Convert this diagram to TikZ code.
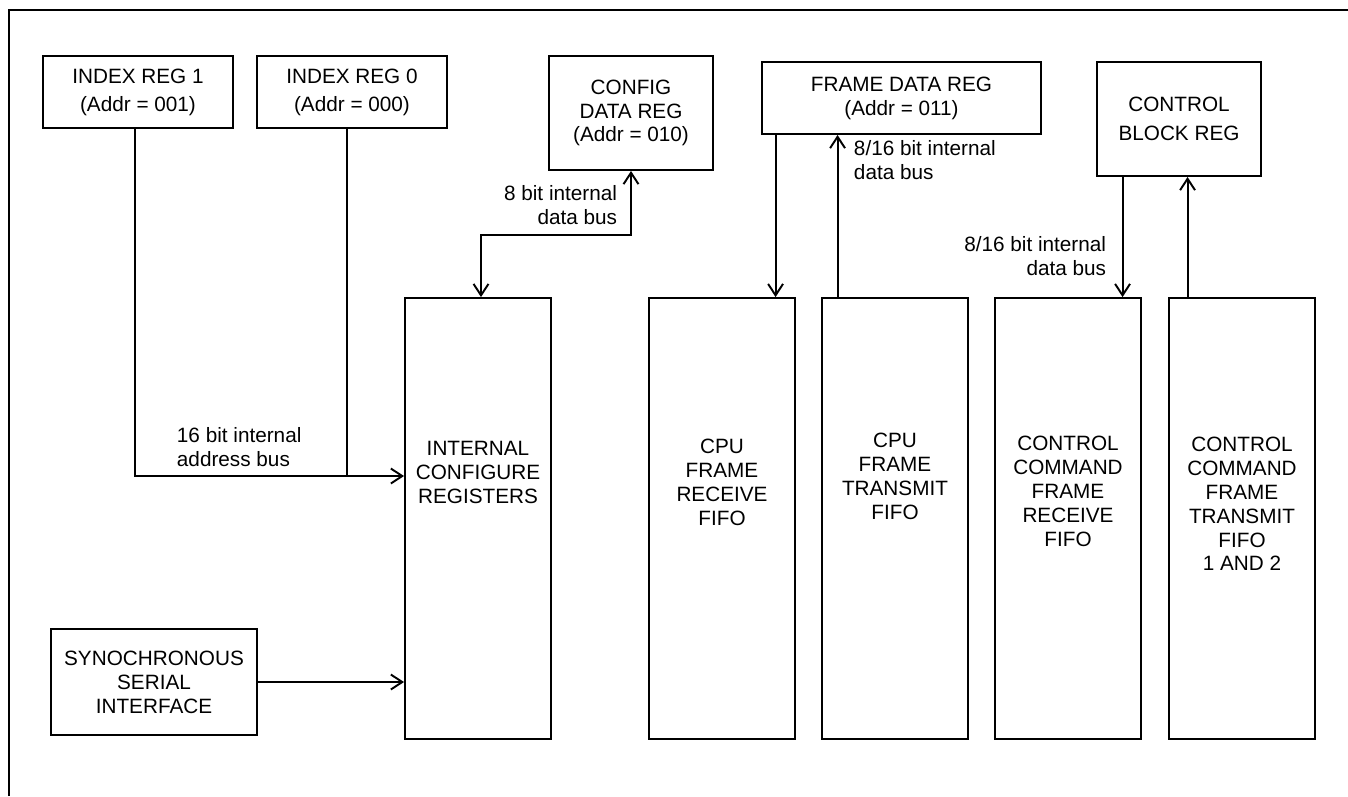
\documentclass[tikz,border=0pt]{standalone}
\usepackage{fontspec}
\setmainfont{Liberation Sans}
\usetikzlibrary{arrows.meta}
\usetikzlibrary{positioning}
\newcommand{\regfont}{\fontsize{11.8pt}{13.6pt}\selectfont}
\tikzset{>={Straight Barb[length=6.5pt,width=8.5pt]}}
\tikzset{reg/.style={draw, align=center, inner sep=0pt, font=\regfont}}
\tikzset{fifo/.style={draw, minimum width=2.92cm, minimum height=8.82cm}}
\tikzset{fifotext/.style={align=center, inner sep=0pt, font=\regfont}}
\tikzset{buslabel/.style={inner sep=0pt, font=\regfont}}

\begin{document}
\begin{tikzpicture}[x=0.02cm, y=-0.02cm, line width=1.1pt]
      \useasboundingbox (0, 0) rectangle (1348, 796);
      \draw (9, 796) -- (9, 10) -- (1348, 10);

      \node [reg, minimum width=3.8cm, minimum height=1.44cm, font=\fontsize{11.8pt}{16pt}\selectfont] (idx1) at (138, 92) {INDEX REG 1\\(Addr = 001)};
      \node [reg, minimum width=3.8cm, minimum height=1.44cm, font=\fontsize{11.8pt}{16pt}\selectfont] (idx0) at (352, 92) {INDEX REG 0\\(Addr = 000)};
      \node [reg, minimum width=3.28cm, minimum height=2.28cm] (cfg) at (631, 113) {CONFIG\\DATA REG\\(Addr = 010)};
      \node [reg, minimum width=5.58cm, minimum height=1.44cm] (fdr) at (901.5, 98) {FRAME DATA REG\\(Addr = 011)};
      \node [reg, minimum width=3.28cm, minimum height=2.28cm, font=\fontsize{11.8pt}{16.4pt}\selectfont] (cbr) at (1179, 119) {CONTROL\\BLOCK REG};
      \node [reg, minimum width=4.12cm, minimum height=2.12cm] (ssi) at (154, 682) {SYNOCHRONOUS\\SERIAL\\INTERFACE};

      \node [fifo] (icr) at (478, 518.5) {};
      \node [fifo] (cfr) at (722, 518.5) {};
      \node [fifo] (cft) at (895, 518.5) {};
      \node [fifo] (ccr) at (1068, 518.5) {};
      \node [fifo] (cct) at (1242, 518.5) {};

      \node [fifotext, below=2.86cm of icr.north] {INTERNAL\\CONFIGURE\\REGISTERS};
      \node [fifotext, below=2.82cm of cfr.north] {CPU\\FRAME\\RECEIVE\\FIFO};
      \node [fifotext, below=2.7cm of cft.north] {CPU\\FRAME\\TRANSMIT\\FIFO};
      \node [fifotext, below=2.76cm of ccr.north] {CONTROL\\COMMAND\\FRAME\\RECEIVE\\FIFO};
      \node [fifotext, below=2.78cm of cct.north] {CONTROL\\COMMAND\\FRAME\\TRANSMIT\\FIFO\\1 AND 2};

      \coordinate (bus) at ([yshift=0.85cm]icr.west);
      \draw [->] ([xshift=-0.06cm]idx1.south) |- (bus);
      \draw ([xshift=-0.1cm]idx0.south) coordinate (ia) -- (ia |- bus);
      \node [buslabel, align=left, anchor=west] at (176, 447) {16 bit internal\\address bus};

      \draw [->] (ssi.east) -- (ssi.east -| icr.west);

      \draw [<->] ([xshift=0.06cm]icr.north) -- ++(0, -62) -| (cfg.south);
      \node [buslabel, align=right, anchor=east] at (618, 205) {8 bit internal\\data bus};

      \draw [->] ([xshift=0.29cm]fdr.south west) coordinate (fa) -- (fa |- cfr.north);
      \draw [->] ([xshift=0.33cm]cft.north west) coordinate (fb) -- (fb |- fdr.south);
      \node [buslabel, align=left, anchor=west] at (853, 160) {8/16 bit internal\\data bus};

      \draw [->] ([xshift=0.53cm]cbr.south west) coordinate (ca) -- (ca |- ccr.north);
      \draw [->] ([xshift=0.39cm]cct.north west) coordinate (cb) -- (cb |- cbr.south);
      \node [buslabel, align=right, anchor=east] at (1107, 256) {8/16 bit internal\\data bus};
    \end{tikzpicture}
\end{document}
